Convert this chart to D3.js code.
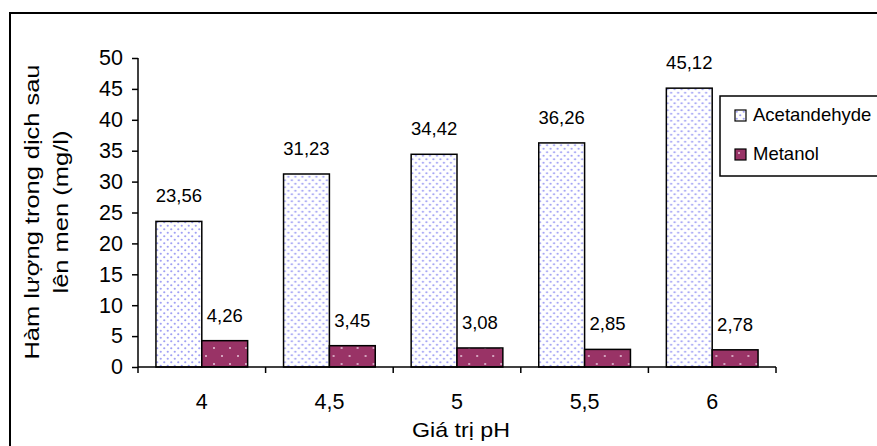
<!DOCTYPE html>
<html><head><meta charset="utf-8">
<script src="https://cdn.jsdelivr.net/npm/d3@7"></script>
<style>
html,body{margin:0;padding:0;background:#fff;}
svg{display:block;font-family:"Liberation Sans",Arial,sans-serif;}
</style></head>
<body>
<svg id="c" width="877" height="446"></svg>
<script>
const categories = ["4","4,5","5","5,5","6"];
const acetandehyde = [23.56,31.23,34.42,36.26,45.12];
const metanol = [4.26,3.45,3.08,2.85,2.78];
const seriesNames = ["Acetandehyde","Metanol"];
const yTicks = [0,5,10,15,20,25,30,35,40,45,50];
const fmt = v => String(v).replace(".", ",");

const svg = d3.select("#c");
const defs = svg.append("defs");
const p1 = defs.append("pattern").attr("id","pA").attr("patternUnits","userSpaceOnUse")
  .attr("width",7).attr("height",7);
p1.append("rect").attr("width",7).attr("height",7).attr("fill","#fff");
p1.append("circle").attr("cx",1.75).attr("cy",1.75).attr("r",1.1).attr("fill","#a0a0f4");
p1.append("circle").attr("cx",5.25).attr("cy",5.25).attr("r",1.1).attr("fill","#a0a0f4");
const p2 = defs.append("pattern").attr("id","pM").attr("patternUnits","userSpaceOnUse")
  .attr("width",16).attr("height",16);
p2.append("rect").attr("width",16).attr("height",16).attr("fill","#993366");
p2.append("circle").attr("cx",4).attr("cy",4).attr("r",1).attr("fill","#e8c8dc");
p2.append("circle").attr("cx",12).attr("cy",12).attr("r",1).attr("fill","#e8c8dc");

// outer frame
svg.append("rect").attr("x",10).attr("y",13).attr("width",900).attr("height",460)
  .attr("fill","none").attr("stroke","#000").attr("stroke-width",2);

const x0 = d3.scaleBand().domain(categories).range([138,776]).paddingInner(0).paddingOuter(0);
const x1 = d3.scaleBand().domain(seriesNames).range([0,x0.bandwidth()]).paddingInner(0).paddingOuter(0.3915);
const y = d3.scaleLinear().domain([0,50]).range([367,58]);

const data = categories.map((c,i)=>({c, vals:[{s:"Acetandehyde",v:acetandehyde[i]},{s:"Metanol",v:metanol[i]}]}));
const fills = {"Acetandehyde":"url(#pA)","Metanol":"url(#pM)"};

const g = svg.append("g");
const grp = g.selectAll("g.grp").data(data).join("g").attr("transform",d=>`translate(${x0(d.c)},0)`);
grp.selectAll("rect").data(d=>d.vals).join("rect")
  .attr("x",d=>x1(d.s)).attr("width",x1.bandwidth())
  .attr("y",d=>y(d.v)).attr("height",d=>y(0)-y(d.v))
  .attr("fill",d=>fills[d.s]).attr("stroke","#000").attr("stroke-width",1.5);
grp.selectAll("text").data(d=>d.vals).join("text")
  .attr("x",d=>x1(d.s)+x1.bandwidth()/2).attr("y",d=>y(d.v)-19)
  .attr("text-anchor","middle").attr("font-size",18.5).attr("fill","#000")
  .text(d=>fmt(d.v));

// y axis
const yAxis = g.append("g").attr("transform","translate(138,0)")
  .call(d3.axisLeft(y).tickValues(yTicks).tickSize(6).tickPadding(9).tickFormat(d=>d));
yAxis.selectAll("text").attr("font-size",21.5).attr("fill","#000").attr("font-family","Liberation Sans, Arial, sans-serif");
yAxis.selectAll("line,path").attr("stroke","#000").attr("stroke-width",1.5);
yAxis.select("path").attr("d","M0,58V367");

// x axis
const xAxis = g.append("g").attr("transform","translate(0,367)")
  .call(d3.axisBottom(x0).tickSize(0).tickPadding(27));
xAxis.selectAll("text").attr("font-size",21.5).attr("fill","#000").attr("font-family","Liberation Sans, Arial, sans-serif");
xAxis.select("path").attr("stroke","#000").attr("stroke-width",1.5).attr("d","M138,0H776");
const bounds = categories.map(c=>x0(c)).concat([x0.range()[1]]);
xAxis.selectAll("line.b").data(bounds).join("line").attr("class","b")
  .attr("x1",d=>d).attr("x2",d=>d).attr("y1",0).attr("y2",6)
  .attr("stroke","#000").attr("stroke-width",1.5);

// axis titles
svg.append("text").attr("x",461).attr("y",437).attr("text-anchor","middle")
  .attr("font-size",21).attr("textLength",98).attr("lengthAdjust","spacingAndGlyphs").text("Giá trị pH");
const yt = svg.append("g").attr("transform","translate(0,212) rotate(-90)");
yt.append("text").attr("x",0).attr("y",39).attr("text-anchor","middle").attr("font-size",21)
  .attr("textLength",295).attr("lengthAdjust","spacingAndGlyphs").text("Hàm lượng trong dịch sau");
yt.append("text").attr("x",0).attr("y",68).attr("text-anchor","middle").attr("font-size",21)
  .attr("textLength",163).attr("lengthAdjust","spacingAndGlyphs").text("lên men (mg/l)");

// legend
svg.append("rect").attr("x",720).attr("y",96).attr("width",200).attr("height",80)
  .attr("fill","#fff").attr("stroke","#000").attr("stroke-width",1.5);
const lg = svg.selectAll("g.lg").data(seriesNames).join("g").attr("class","lg")
  .attr("transform",(d,i)=>`translate(735,${110+i*39})`);
lg.append("rect").attr("width",11).attr("height",11)
  .attr("fill",d=>fills[d]).attr("stroke","#000").attr("stroke-width",1.2);
lg.append("text").attr("x",18).attr("y",11).attr("font-size",18.5).text(d=>d);
</script>
</body></html>
